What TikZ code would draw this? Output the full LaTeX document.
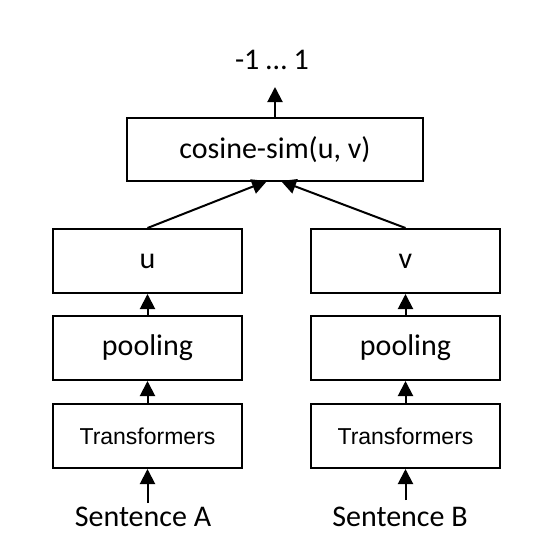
\documentclass[tikz,border=0pt]{standalone}
\usepackage{fontspec}
\setmainfont{Carlito}
\newfontfamily\arialfont{Liberation Sans}
\usetikzlibrary{arrows.meta}
\tikzset{
  blk/.style={draw=black, line width=2pt, minimum width=189pt, minimum height=64pt, inner sep=0pt, font=\fontsize{30}{36}\selectfont},
  trf/.style={blk, font=\arialfont\fontsize{23}{28}\selectfont},
  lbl/.style={inner sep=0pt, font=\fontsize{30}{36}\selectfont},
  arr/.style={line width=2pt, -{Triangle[width=15pt,length=15pt]}}
}
\begin{document}
\begin{tikzpicture}[x=1pt,y=-1pt]
\useasboundingbox (0,0) rectangle (551,555);
\node[blk, minimum width=296pt, minimum height=63pt] (cos) at (275,149.5) {cosine-sim(u, v)};
\node[lbl] (out) at (272,60) {-1 … 1};
\coordinate (outtip) at (275,87);
\node[blk] (u) at (147.5,261) {u};
\node[blk] (pa) at (147.5,348) {pooling};
\node[trf] (ta) at (147.5,436) {Transformers};
\node[blk] (v) at (405.5,261) {v};
\node[blk] (pb) at (405.5,348) {pooling};
\node[trf] (tb) at (405.5,436) {Transformers};
\node[lbl] (sa) at (143,517) {Sentence A};
\node[lbl] (sb) at (400,517) {Sentence B};
\coordinate (sat) at (147.5,503);
\coordinate (sbt) at (405.5,500);
\draw[arr] (cos.north) -- (outtip);
\draw[arr] (u.north) -- (267,181);
\draw[arr] (v.north) -- (281,181);
\draw[arr] (pa.north) -- (u.south);
\draw[arr] (ta.north) -- (pa.south);
\draw[arr] (sat) -- (ta.south);
\draw[arr] (pb.north) -- (v.south);
\draw[arr] (tb.north) -- (pb.south);
\draw[arr] (sbt) -- (tb.south);
\end{tikzpicture}
\end{document}
